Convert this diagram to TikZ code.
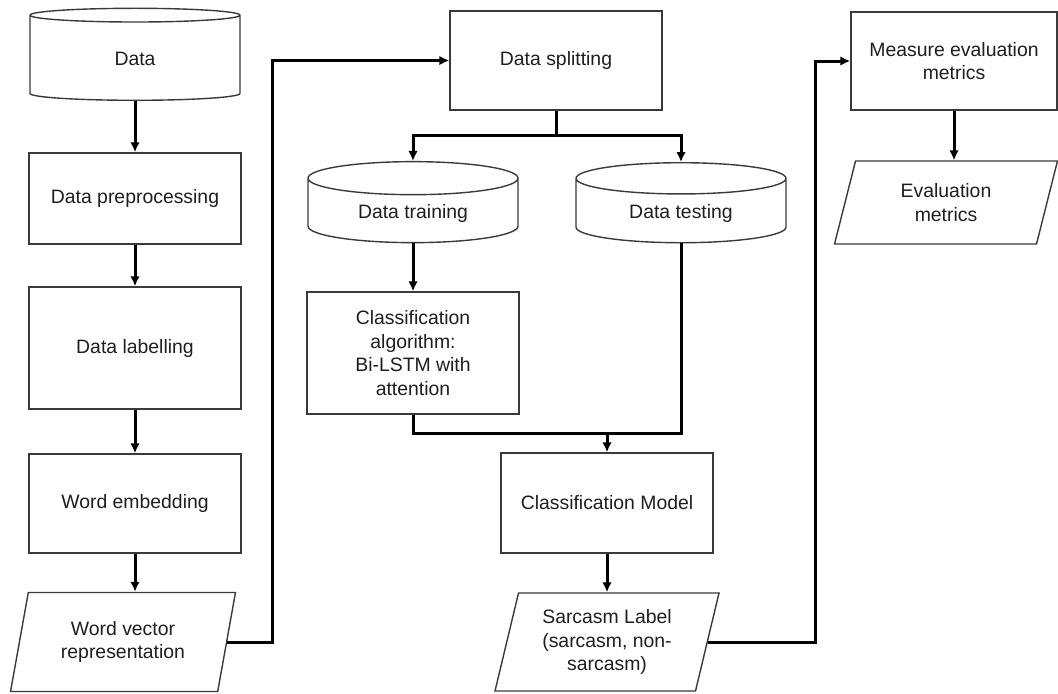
\documentclass[tikz,border=0pt]{standalone}
\usepackage{fontspec}
\setmainfont{Liberation Sans}
\usetikzlibrary{shapes.geometric,arrows.meta}

\definecolor{boxline}{HTML}{3A3A3A}
\definecolor{boxtext}{HTML}{1E1E1E}

\tikzset{
    basebox/.style={draw=boxline, line width=0.7pt, text=boxtext, align=center,
        font=\fontsize{9.7}{11.8}\selectfont, inner sep=2pt},
    procbox/.style={basebox, rectangle, minimum width=106pt},
    database/.style={basebox, cylinder, shape border rotate=90, aspect=0.28,
        minimum width=105pt},
    iobox/.style={basebox, trapezium, trapezium left angle=76, trapezium right angle=104,
        trapezium stretches=true, minimum width=113pt},
    flow/.style={black, line width=1.5pt},
    flowarrow/.style={flow, -{Latex[length=5pt,width=4.8pt]}}
}

\begin{document}
\begin{tikzpicture}[x=0.5pt, y=-0.5pt]
    \useasboundingbox (0,0) rectangle (1058,693);

    % left column
    \node[database, minimum height=46pt] (data) at (135,59) {Data};
    \node[procbox, minimum height=45.5pt] (prep) at (135,198.5) {Data preprocessing};
    \node[procbox, minimum height=61pt] (label) at (135,348) {Data labelling};
    \node[procbox, minimum height=49.5pt] (embed) at (135,503.5) {Word embedding};
    \node[iobox, minimum height=49.5pt] (wvr) at (123,642) {Word vector\\representation};

    % middle column
    \node[procbox, minimum height=49.5pt] (split) at (556,60.5) {Data splitting};
    \node[database, minimum height=40.5pt] (train) at (413,213) {Data training};
    \node[database, minimum height=40pt] (test) at (681,213) {Data testing};
    \node[procbox, minimum height=61pt] (algo) at (413,353) {Classification\\algorithm:\\Bi-LSTM with\\attention};
    \node[procbox, minimum height=50pt] (model) at (607,503) {Classification Model};
    \node[iobox, minimum height=49pt] (sarc) at (607,642) {Sarcasm Label\\(sarcasm, non-\\sarcasm)};

    % right column
    \node[procbox, minimum width=103pt, minimum height=49pt] (measure) at (954,61) {Measure evaluation\\metrics};
    \node[iobox, minimum width=112pt, minimum height=41.5pt] (evalm) at (946,202.5) {Evaluation\\metrics};

    \coordinate (jA) at (272,0);
    \coordinate (jS) at (556,135);
    \coordinate (jB) at (607,433);
    \coordinate (jC) at (815,0);

    \draw[flowarrow] (data.south) -- (prep.north);
    \draw[flowarrow] (prep.south) -- (label.north);
    \draw[flowarrow] (label.south) -- (embed.north);
    \draw[flowarrow] (embed.south) -- (embed.south |- wvr.north);
    \draw[flowarrow] (wvr.east) -- (wvr.east -| jA) |- (split.west);

    \draw[flow] (split.south) -- (jS);
    \draw[flowarrow] (jS) -| (train.north);
    \draw[flowarrow] (jS) -| (test.north);
    \draw[flowarrow] (train.south) -- (algo.north);
    \draw[flow] (algo.south) |- (jB) -| (test.south);
    \draw[flowarrow] (jB) -- (model.north);
    \draw[flowarrow] (model.south) -- (model.south |- sarc.north);
    \draw[flowarrow] (sarc.east) -- (sarc.east -| jC) |- (measure.west);
    \draw[flowarrow] (measure.south) -- (measure.south |- evalm.north);
\end{tikzpicture}
\end{document}
